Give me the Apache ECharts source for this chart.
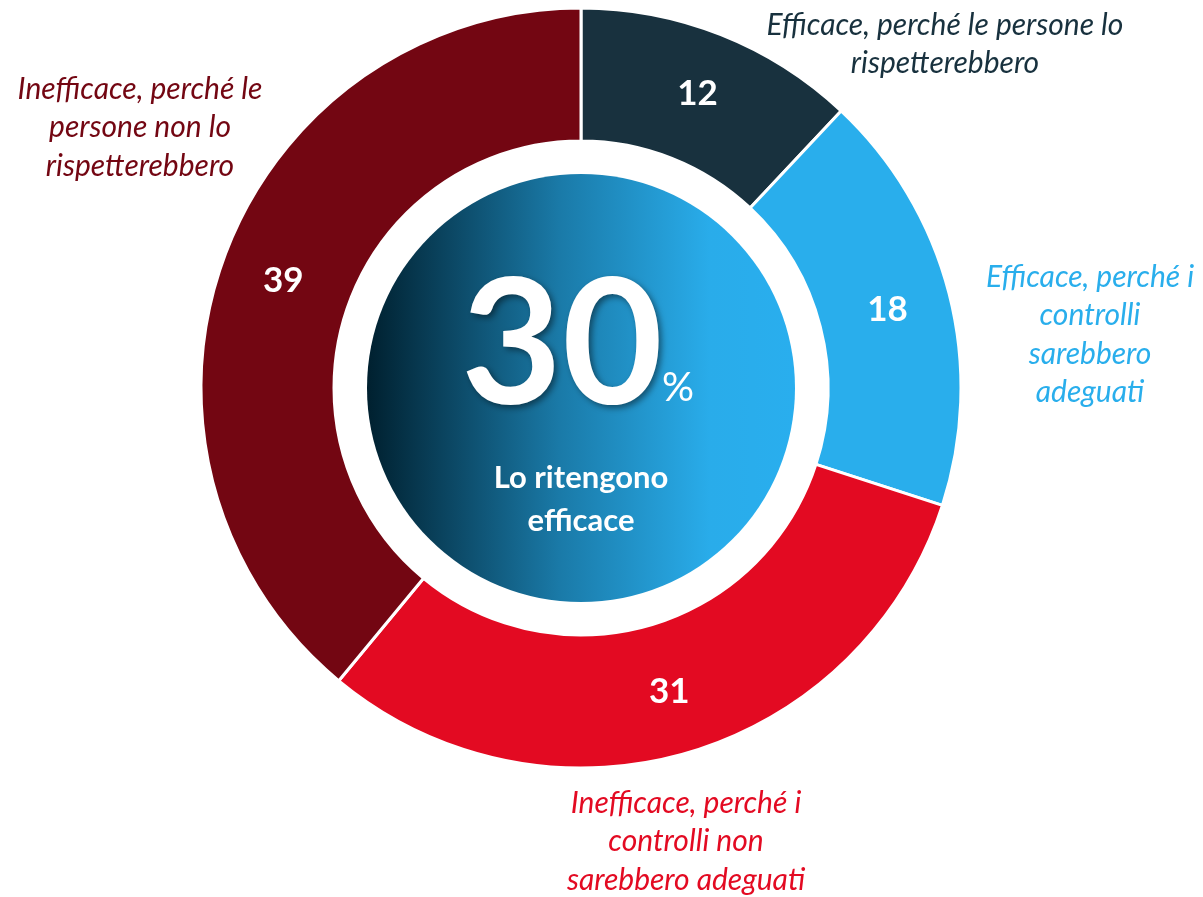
<!DOCTYPE html>
<html>
<head>
<meta charset="utf-8">
<script src="https://cdn.jsdelivr.net/npm/echarts@6/dist/echarts.min.js"></script>
<style>
  html, body { margin: 0; padding: 0; background: #fff; }
  #chart { width: 1203px; height: 897px; }
</style>
</head>
<body>
<div id="chart"></div>
<script>
const categories = [
  "Efficace, perché le persone lo\nrispetterebbero",
  "Efficace, perché i\ncontrolli\nsarebbero\nadeguati",
  "Inefficace, perché i\ncontrolli non\nsarebbero adeguati",
  "Inefficace, perché le\npersone non lo\nrispetterebbero"
];
const values = [12, 18, 31, 39];
const colors = ["#18313e", "#29aeec", "#e30a22", "#730612"];
const centerValue = 30;
const centerCaption = "Lo ritengono\nefficace";

// where the outside captions sit (x centre, first line top)
const labelPos = [[945, 6], [1090, 258], [686, 784], [140, 70]];

const cx = 581, cy = 388;
const font = "Lato, 'Open Sans', sans-serif";

const chart = echarts.init(document.getElementById("chart"));

const outside = categories.map((c, i) => ({
  type: "text",
  x: labelPos[i][0],
  y: labelPos[i][1],
  z: 100,
  style: {
    text: c,
    align: "center",
    verticalAlign: "top",
    fill: colors[i],
    font: "italic 30px " + font,
    lineHeight: 38.5
  }
}));

chart.setOption({
  animation: false,
  series: [
    {
      type: "pie",
      silent: true,
      center: [cx, cy],
      radius: [0, 214],
      label: { show: false },
      labelLine: { show: false },
      data: [{
        value: 1,
        itemStyle: {
          color: new echarts.graphic.LinearGradient(0, 0, 1, 0, [
            { offset: 0, color: "#00202f" },
            { offset: 0.45, color: "#1a7aa8" },
            { offset: 0.8, color: "#29acea" },
            { offset: 1, color: "#29aeee" }
          ])
        }
      }]
    },
    {
      type: "pie",
      center: [cx, cy],
      radius: [247, 380],
      startAngle: 90,
      clockwise: true,
      itemStyle: { borderColor: "#fff", borderWidth: 3 },
      label: {
        show: true,
        position: "inside",
        formatter: "{c}",
        color: "#fff",
        fontFamily: font,
        fontWeight: "bold",
        fontSize: 35
      },
      labelLine: { show: false },
      data: values.map((v, i) => ({
        value: v,
        name: categories[i],
        itemStyle: { color: colors[i] }
      }))
    }
  ],
  graphic: outside.concat([
    {
      type: "text",
      x: 562,
      y: 348,
      z: 100,
      style: {
        text: String(centerValue),
        align: "center",
        verticalAlign: "middle",
        fill: "#fff",
        font: "bold 174px " + font,
        textShadowColor: "rgba(0,0,0,0.45)",
        textShadowBlur: 6,
        textShadowOffsetX: 3,
        textShadowOffsetY: 3
      }
    },
    {
      type: "text",
      x: 678,
      y: 388,
      z: 100,
      style: {
        text: "%",
        align: "center",
        verticalAlign: "middle",
        fill: "#fff",
        font: "40px " + font
      }
    },
    {
      type: "text",
      x: cx,
      y: 456,
      z: 100,
      style: {
        text: centerCaption,
        align: "center",
        verticalAlign: "top",
        fill: "#fff",
        font: "bold 31px " + font,
        lineHeight: 43
      }
    }
  ])
});
</script>
</body>
</html>
